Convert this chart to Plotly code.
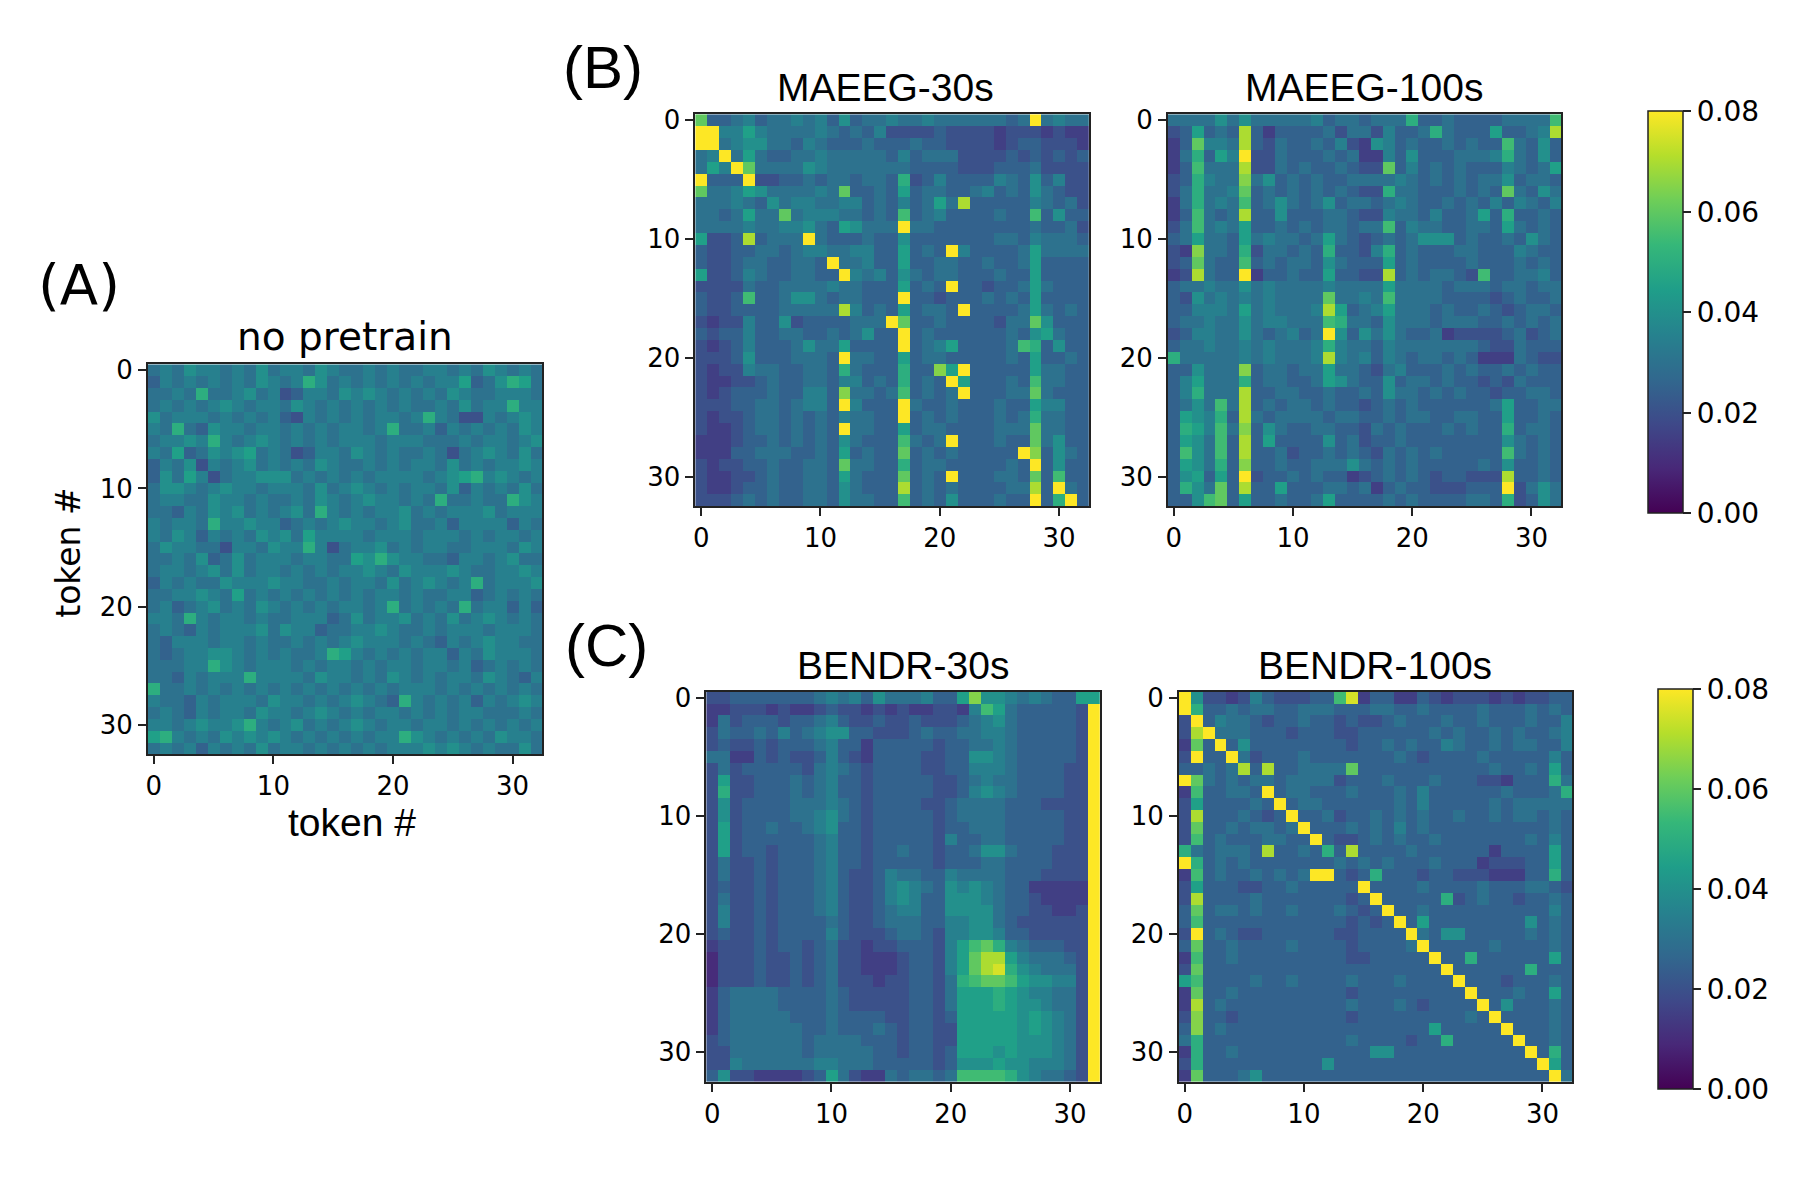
"""Attention maps: no pretrain / MAEEG / BENDR (Plotly)."""

import plotly.graph_objects as go

# page is 1806x1192; the plot div sits inside the default 8px body margin
PAGE_W, PAGE_H, OFF = 1806, 1192, 8
W, H = PAGE_W - 2 * OFF, PAGE_H - 2 * OFF
Y_SHIFT = -5

# each row: 33 cells, one base-36 digit per cell, value = digit * 0.005
NO_PRETRAIN = [
    "67687767686 77687667676 67767687676",
    "57676767687 67a86767676 76779568a96",
    "6676a667867 45776878767 67687667776",
    "67676787677 68767676767 66768677a77",
    "86777676767 54767676776 7a764476787",
    "76a65877677 676767767a6 67576767687",
    "67787a76787 67676777677 76667677678",
    "76956878967 64577687676 67646787686",
    "57684767867 67687667676 77686767787",
    "58697467788 86767676777 76789a78767",
    "68876787767 77686787676 77685767686",
    "67766877676 67687678776 76a66766a87",
    "66576878676 786a7676778 67677786777",
    "76776a77877 56767877678 66757777576",
    "76875767687 86977776777 67776767767",
    "68776647768 77a74677867 67766777687",
    "66768568677 76776698a87 76657767866",
    "67767868677 67676778768 77787667787",
    "57676687778 77667677686 78767a67778",
    "66778769676 76767676776 76677567676",
    "67567867687 676767767a6 7676a677575",
    "776a7677676 67775686778 67686787676",
    "67657677786 87756677876 67677767776",
    "65777677676 67676787776 76576787766",
    "65677887676 7667a976767 67757687776",
    "66677a87677 76767767677 67767567676",
    "66576777a77 77687767687 67677687657",
    "a6676767676 76767676767 77676767676",
    "76657677768 7767678765a 76767576787",
    "67657677687 76787676776 76767766676",
    "77678778a76 78676787677 67767676767",
    "9a767687878 7676767677a 87676768776",
    "67675767686 77676767677 78787676686",
]

MAEEG_30S = [
    "c5567566767 58566766766 666656g6766",
    "gg779766667 65657444454 44434443433",
    "gg678866576 55565556554 44434554443",
    "67g69655667 66666575666 44445454545",
    "697gc666687 66666665555 44455564444",
    "g555g445565 665665a4575 55576585744",
    "c6679866667 6c556595665 56756586544",
    "66676586776 67756575696 e5555576564",
    "6656966c677 766565b5675 555655b5855",
    "66667667786 598666g6655 55555565564",
    "9445e5666g6 55565585555 55566576665",
    "54455665677 6677559565g 75555696666",
    "54456655665 g6675595566 55655695555",
    "94457655665 5g767586566 55565595555",
    "44446556666 7665559565g 55455696555",
    "5445b556886 566555g5545 55656595555",
    "54455556666 6e756595665 g5555696565",
    "43447558455 55666gc5565 555466c8555",
    "54557556655 656855g5655 55556589655",
    "43457555686 695555g5679 55556ba5855",
    "44458555666 5g665595665 55556595565",
    "43447665566 5a6555a55d9 g5555596655",
    "43344565566 577565a565g 955565b6655",
    "43455565577 5d6656b5656 g55566c6555",
    "44455665677 5g7555g6556 55565597755",
    "43445665656 576655g5656 555656a6655",
    "43345665656 5g665595665 555666c6655",
    "33345565656 586555b656g 555655c6855",
    "33355666556 595655c5656 55555gd5865",
    "43445565566 5c6655a5665 555565g5855",
    "43344565566 596555c565g 555665c5b55",
    "43345565566 586555e5656 555566e5g65",
    "44456565566 586655b5658 555655g5ag5",
]

MAEEG_100S = [
    "66668686666 675665666a5 5655556666b",
    "459565e5355 55646647556 a655595567e",
    "35c776e5465 56574387565 565655b6585",
    "36a597g4465 55656337585 556667a6585",
    "35b666e4465 6556544c575 65655576569",
    "45a766d6856 56556666765 65656685665",
    "46a667c5656 5656544a665 556565c6586",
    "36a676b5686 56856656765 56565757657",
    "35b656e5585 55665447665 755695a5565",
    "46b67695565 6566566b576 65566596565",
    "56966596766 56965456568 88565565865",
    "43d665a4665 65a5547a565 55665557655",
    "45c655b5656 65865559565 55565556565",
    "34e655g3556 5595544e565 6654b556675",
    "56676686766 66766669666 65666566566",
    "54867676766 66c6676b666 65555456556",
    "55777696766 67e95679666 56556545665",
    "56676686776 66ba6658666 56665565656",
    "45776686567 56g85868655 63444456456",
    "56676676766 67a76657666 66665446555",
    "a6666676766 67e76757656 65653336544",
    "558666d5665 66966546755 56565565655",
    "579666a5665 56986558566 56554546555",
    "57a666e5566 55655658665 65655455665",
    "5686b6e5656 65655456565 55555695566",
    "5987a5e6566 66566556566 55665595565",
    "5a97b6d5865 56655465655 565655a5665",
    "5986b5e5955 55856455655 55555586565",
    "5b86b5e5564 55656546565 655555b6565",
    "5986a5d5565 56668656565 55556585565",
    "589595g4556 56553456565 455444e5565",
    "5a86c5e5595 55665635655 444555g4686",
    "558bc595565 56955556565 555665a4586",
]

BENDR_30S = [
    "44555555567 67586667559 d8876765599",
    "33444343345 44343433443 7b96555554g",
    "36455545567 54454454445 6786555554g",
    "46556575678 85544456556 6776555554g",
    "45445455567 55355555455 6676555554g",
    "66335454457 54355554455 8876555554g",
    "46455555467 65455554455 7776555544g",
    "49445556567 55455555445 6766555544g",
    "4a445556567 55455555445 7876555544g",
    "48455556667 65455554456 6665554444g",
    "48455556678 65455555456 6665555544g",
    "49455655678 55455555455 6665555544g",
    "49455555567 55455555475 5665555544g",
    "49455455567 55455655455 6886555444g",
    "46445455567 55455555455 5665555444g",
    "46445455567 54457665576 6665554444g",
    "45445455567 54457876587 8765533333g",
    "46445455567 54457875588 8765543333g",
    "47445455567 54456775588 8865544334g",
    "47445455556 54456665577 8865444444g",
    "45445455557 54445665477 8875544444g",
    "34445455456 44344555479 bca7655544g",
    "24445445456 44333455479 cee9766654g",
    "24445445456 44333455479 cefa876664g",
    "24445445456 4443445546a bccb988774g",
    "35666655556 54444455469 99a9877664g",
    "35666655556 54444455469 99a9887664g",
    "35666665556 55554455459 9999898764g",
    "35666666556 55565455449 9999898764g",
    "45666666566 66555455449 9999888764g",
    "44666666566 66655455459 9989888764g",
    "44766666677 66655555458 8898877764g",
    "58443333459 6433656656b bbba876654g",
]

BENDR_100S = [
    "g8443475444 55bf3553354 34443434455",
    "ga556566556 66555665565 55565556565",
    "4g576654556 55454456555 65565556557",
    "4eg66655545 55445555556 56556565567",
    "3c5g5855555 55545565655 76556566557",
    "4g55g645556 55555556545 55565555575",
    "55656e5e556 666c5555555 55556556595",
    "gc656566566 66455565556 555443555a6",
    "3b55665g566 55565556575 5555565556a",
    "49555565g56 65555556575 55556566666",
    "4e5556545g5 56455656565 56556566565",
    "4c55656656g 55565657565 55555555565",
    "4b565556655 g5445656556 55555556575",
    "a656665e556 5a5e5555655 55553555595",
    "ga565655555 55656565556 55534445595",
    "3b565565656 gg545a55545 544433355a5",
    "49555445565 5555g555565 55565556654",
    "4e555565555 55545g55555 a4565545565",
    "5c566565565 556545g5565 55555555575",
    "5b555555555 5554545g595 55555558565",
    "4g565445555 55445555g65 88555556565",
    "5c556555565 555455556g5 55556555565",
    "3b556555555 5554455555g 55a55555595",
    "4c555555555 55555555555 g555555a555",
    "9b555565565 55565556555 5g555455565",
    "3c556555555 55545555555 55g55565595",
    "3e565555555 55565556545 555g5855565",
    "4d554555555 55545555555 5565g555565",
    "5d565555555 55555555559 55555g55565",
    "6a555555555 55565555455 a55555g5565",
    "3a556555555 55555885555 5555555g5a5",
    "4a555555555 58555555555 55555555g95",
    "3c555685555 55555555555 555555555g6",
]

TITLES = ["no pretrain", "MAEEG-30s", "MAEEG-100s", "BENDR-30s", "BENDR-100s"]
TICKS = [0, 10, 20, 30]
CBAR_TICKS = [0.0, 0.02, 0.04, 0.06, 0.08]

TICK_FONT = dict(family="DejaVu Sans", size=26, color="black")
HELV = "Liberation Sans"


def decode(rows):
    out = []
    for r in rows:
        r = r.replace(" ", "")
        assert len(r) == 33, r
        out.append([int(c, 36) * 0.005 for c in r])
    assert len(out) == 33
    return out


def fx(px):
    return (px - OFF) / W


def fy(py):
    return 1 - (py + Y_SHIFT - OFF) / H


# panel boxes in page pixels: (left, right, top, bottom)
PANELS = [
    (146, 541, 363, 756),
    (694, 1088, 111, 506),
    (1167, 1561, 111, 506),
    (705, 1099, 693, 1086),
    (1178, 1572, 693, 1086),
]
DATA = [NO_PRETRAIN, MAEEG_30S, MAEEG_100S, BENDR_30S, BENDR_100S]

fig = go.Figure()
cbar_common = dict(
    thickness=35, thicknessmode="pixels", lenmode="fraction",
    xanchor="left", yanchor="middle", xpad=0, ypad=0,
    outlinewidth=1.5, outlinecolor="#222",
    tickvals=CBAR_TICKS, ticktext=[f"{v:.2f}" for v in CBAR_TICKS],
    ticks="outside", ticklen=8, tickwidth=1.5, tickcolor="#222",
    tickfont=dict(family="DejaVu Sans", size=28, color="black"),
)
cbars = {
    2: dict(x=fx(1648), y=fy((108 + 513) / 2), len=405 / H, **cbar_common),
    4: dict(x=fx(1658), y=fy((690 + 1093) / 2), len=403 / H, **cbar_common),
}

layout_axes = {}
for i, (rows, (l, r, t, b)) in enumerate(zip(DATA, PANELS)):
    n = "" if i == 0 else str(i + 1)
    fig.add_trace(
        go.Heatmap(
            z=decode(rows), x=list(range(33)), y=list(range(33)),
            colorscale="Viridis", zmin=0, zmax=0.08,
            xaxis=f"x{n}", yaxis=f"y{n}",
            showscale=i in cbars, colorbar=cbars.get(i),
        )
    )
    ax = dict(
        range=[-0.5, 32.5], tickvals=TICKS, ticks="outside", ticklen=8,
        tickwidth=1.5, tickcolor="#222", showline=True, mirror=True,
        linecolor="#222", linewidth=1.5, showgrid=False, zeroline=False,
        tickfont=TICK_FONT,
    )
    layout_axes[f"xaxis{n}"] = dict(ax, domain=[fx(l), fx(r)], anchor=f"y{n}")
    layout_axes[f"yaxis{n}"] = dict(
        ax, range=[32.5, -0.5], domain=[fy(b), fy(t)], anchor=f"x{n}"
    )

fig.update_layout(
    width=W, height=H, margin=dict(l=0, r=0, t=0, b=0),
    paper_bgcolor="white", plot_bgcolor="white",
    **layout_axes,
)


def label(text, x, y, font, size, xanchor="center", angle=0):
    fig.add_annotation(
        text=text, x=fx(x), y=fy(y), xref="paper", yref="paper",
        xanchor=xanchor, yanchor="middle", showarrow=False, textangle=angle,
        font=dict(family=font, size=size, color="black"),
    )


label("(A)", 34, 283, "DejaVu Sans", 56, xanchor="left")
label("(B)", 560, 64, HELV, 60, xanchor="left")
label("(C)", 562, 646, HELV, 60, xanchor="left")

label(TITLES[0], 343, 335, "DejaVu Sans", 39)
label(TITLES[1], 884, 84, HELV, 39)
label(TITLES[2], 1364, 84, HELV, 39)
label(TITLES[3], 902, 666, HELV, 39)
label(TITLES[4], 1375, 666, HELV, 39)

label("token #", 350, 825, HELV, 39)
label("token #", 67, 553, "DejaVu Sans", 33, angle=-90)

fig.write_html("out.html")
